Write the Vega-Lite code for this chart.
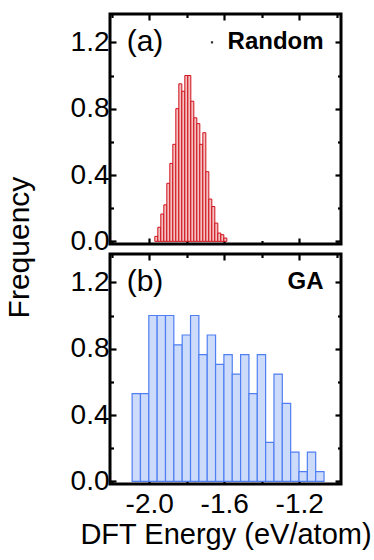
{
  "$schema": "https://vega.github.io/schema/vega-lite/v6.json",
  "padding": {"left": 2, "top": 11, "right": 5, "bottom": 0},
  "background": "white",
  "bounds": "flush",
  "spacing": 10,
  "config": {
    "font": "Liberation Sans",
    "view": {"stroke": "black", "strokeWidth": 3},
    "axis": {
      "grid": false, "domain": false, "tickColor": "black", "tickWidth": 2.2,
      "labelFont": "Liberation Sans", "labelFontSize": 28, "labelColor": "black",
      "titleFont": "Liberation Sans", "titleFontSize": 30, "titleFontWeight": "normal", "titleColor": "black"
    }
  },
  "datasets": {
    "random": [
      {"x0": -1.970, "x1": -1.954, "v": 0.03},
      {"x0": -1.954, "x1": -1.938, "v": 0.085},
      {"x0": -1.938, "x1": -1.922, "v": 0.165},
      {"x0": -1.922, "x1": -1.906, "v": 0.22},
      {"x0": -1.906, "x1": -1.890, "v": 0.35},
      {"x0": -1.890, "x1": -1.874, "v": 0.47},
      {"x0": -1.874, "x1": -1.858, "v": 0.585},
      {"x0": -1.858, "x1": -1.842, "v": 0.80},
      {"x0": -1.842, "x1": -1.826, "v": 0.95},
      {"x0": -1.826, "x1": -1.810, "v": 0.905},
      {"x0": -1.810, "x1": -1.794, "v": 1.0},
      {"x0": -1.794, "x1": -1.778, "v": 1.0},
      {"x0": -1.778, "x1": -1.762, "v": 0.845},
      {"x0": -1.762, "x1": -1.746, "v": 0.745},
      {"x0": -1.746, "x1": -1.730, "v": 0.71},
      {"x0": -1.730, "x1": -1.714, "v": 0.585},
      {"x0": -1.714, "x1": -1.698, "v": 0.655},
      {"x0": -1.698, "x1": -1.682, "v": 0.42},
      {"x0": -1.682, "x1": -1.666, "v": 0.255},
      {"x0": -1.666, "x1": -1.650, "v": 0.21},
      {"x0": -1.650, "x1": -1.634, "v": 0.11},
      {"x0": -1.634, "x1": -1.618, "v": 0.05},
      {"x0": -1.618, "x1": -1.602, "v": 0.04},
      {"x0": -1.602, "x1": -1.586, "v": 0.02}
    ],
    "ga": [
      {"x0": -2.0910, "x1": -2.0465, "v": 0.5294},
      {"x0": -2.0465, "x1": -2.0020, "v": 0.5294},
      {"x0": -2.0020, "x1": -1.9575, "v": 1.0},
      {"x0": -1.9575, "x1": -1.9130, "v": 1.0},
      {"x0": -1.9130, "x1": -1.8685, "v": 1.0},
      {"x0": -1.8685, "x1": -1.8240, "v": 0.8235},
      {"x0": -1.8240, "x1": -1.7795, "v": 0.8824},
      {"x0": -1.7795, "x1": -1.7350, "v": 1.0},
      {"x0": -1.7350, "x1": -1.6905, "v": 0.7647},
      {"x0": -1.6905, "x1": -1.6460, "v": 0.8824},
      {"x0": -1.6460, "x1": -1.6015, "v": 0.7059},
      {"x0": -1.6015, "x1": -1.5570, "v": 0.7647},
      {"x0": -1.5570, "x1": -1.5125, "v": 0.6471},
      {"x0": -1.5125, "x1": -1.4680, "v": 0.7647},
      {"x0": -1.4680, "x1": -1.4235, "v": 0.5294},
      {"x0": -1.4235, "x1": -1.3790, "v": 0.7647},
      {"x0": -1.3790, "x1": -1.3345, "v": 0.2353},
      {"x0": -1.3345, "x1": -1.2900, "v": 0.6471},
      {"x0": -1.2900, "x1": -1.2455, "v": 0.4706},
      {"x0": -1.2455, "x1": -1.2010, "v": 0.1765},
      {"x0": -1.2010, "x1": -1.1565, "v": 0.0588},
      {"x0": -1.1565, "x1": -1.1120, "v": 0.1765},
      {"x0": -1.1120, "x1": -1.0675, "v": 0.0588}
    ]
  },
  "vconcat": [
    {
      "width": 231, "height": 230,
      "resolve": {"axis": {"x": "independent", "y": "independent"}},
      "layer": [
        {
          "data": {"name": "random"},
          "mark": {"type": "bar", "fill": "#f4c0c0", "stroke": "#d0101c", "strokeWidth": 1},
          "encoding": {
            "x": {"field": "x0", "type": "quantitative",
              "scale": {"domain": [-2.209, -0.977], "nice": false, "zero": false},
              "axis": {"orient": "bottom", "values": [-2.2, -2.0, -1.8, -1.6, -1.4, -1.2, -1.0], "labels": false, "title": null,
                "tickSize": {"condition": {"test": "round(datum.value*10)%4==0", "value": -6}, "value": -3.5}}},
            "x2": {"field": "x1"},
            "y": {"field": "v", "type": "quantitative",
              "scale": {"domain": [-0.016, 1.371], "nice": false, "zero": false},
              "axis": {"orient": "left", "values": [0, 0.2, 0.4, 0.6, 0.8, 1.0, 1.2],
                "labelExpr": "round(datum.value*10)%4==0 ? format(datum.value,'.1f') : ''",
                "labelPadding": 7, "title": "Frequency", "titleY": 233, "titlePadding": 36,
                "tickSize": {"condition": {"test": "round(datum.value*10)%4==0", "value": -6}, "value": -3.5}}},
            "y2": {"datum": 0}
          }
        },
        {
          "data": {"values": [{}]},
          "mark": {"type": "text", "text": "(a)", "align": "left", "baseline": "middle", "fontSize": 30, "font": "Liberation Sans", "color": "black"},
          "encoding": {
            "x": {"datum": -2.12, "type": "quantitative",
              "axis": {"orient": "top", "values": [-2.2, -2.0, -1.8, -1.6, -1.4, -1.2, -1.0], "labels": false, "title": null,
                "tickSize": {"condition": {"test": "round(datum.value*10)%4==0", "value": -6}, "value": -3.5}}},
            "y": {"datum": 1.2, "type": "quantitative",
              "axis": {"orient": "right", "values": [0, 0.2, 0.4, 0.6, 0.8, 1.0, 1.2], "labels": false, "title": null,
                "tickSize": {"condition": {"test": "round(datum.value*10)%4==0", "value": -6}, "value": -3.5}}}
          }
        },
        {
          "data": {"values": [{}]},
          "mark": {"type": "text", "text": "Random", "align": "right", "baseline": "middle", "fontSize": 24, "fontWeight": "bold", "font": "Liberation Sans", "color": "black"},
          "encoding": {
            "x": {"datum": -1.07, "type": "quantitative", "axis": null},
            "y": {"datum": 1.2, "type": "quantitative", "axis": null}
          }
        },
        {
          "data": {"values": [{}]},
          "mark": {"type": "point", "shape": "square", "size": 5, "filled": true, "color": "#333333", "opacity": 1},
          "encoding": {
            "x": {"datum": -1.665, "type": "quantitative", "axis": null},
            "y": {"datum": 1.2, "type": "quantitative", "axis": null}
          }
        }
      ]
    },
    {
      "width": 231, "height": 230,
      "resolve": {"axis": {"x": "independent", "y": "independent"}},
      "layer": [
        {
          "data": {"name": "ga"},
          "mark": {"type": "bar", "fill": "#cddbfa", "stroke": "#4f7ff2", "strokeWidth": 1.2},
          "encoding": {
            "x": {"field": "x0", "type": "quantitative",
              "scale": {"domain": [-2.209, -0.977], "nice": false, "zero": false},
              "axis": {"orient": "bottom", "values": [-2.2, -2.0, -1.8, -1.6, -1.4, -1.2, -1.0],
                "labelExpr": "round(datum.value*10)%4==0 ? replace(format(datum.value,'.1f'),'\u2212','-') : ''",
                "labelPadding": 12, "title": "DFT Energy (eV/atom)", "titlePadding": 2, "titleFontSize": 29,
                "tickSize": {"condition": {"test": "round(datum.value*10)%4==0", "value": -6}, "value": -3.5}}},
            "x2": {"field": "x1"},
            "y": {"field": "v", "type": "quantitative",
              "scale": {"domain": [-0.016, 1.371], "nice": false, "zero": false},
              "axis": {"orient": "left", "values": [0, 0.2, 0.4, 0.6, 0.8, 1.0, 1.2],
                "labelExpr": "round(datum.value*10)%4==0 ? format(datum.value,'.1f') : ''",
                "labelPadding": 7, "title": null,
                "tickSize": {"condition": {"test": "round(datum.value*10)%4==0", "value": -6}, "value": -3.5}}},
            "y2": {"datum": 0}
          }
        },
        {
          "data": {"values": [{}]},
          "mark": {"type": "text", "text": "(b)", "align": "left", "baseline": "middle", "fontSize": 30, "font": "Liberation Sans", "color": "black"},
          "encoding": {
            "x": {"datum": -2.12, "type": "quantitative",
              "axis": {"orient": "top", "values": [-2.2, -2.0, -1.8, -1.6, -1.4, -1.2, -1.0], "labels": false, "title": null,
                "tickSize": {"condition": {"test": "round(datum.value*10)%4==0", "value": -6}, "value": -3.5}}},
            "y": {"datum": 1.2, "type": "quantitative",
              "axis": {"orient": "right", "values": [0, 0.2, 0.4, 0.6, 0.8, 1.0, 1.2], "labels": false, "title": null,
                "tickSize": {"condition": {"test": "round(datum.value*10)%4==0", "value": -6}, "value": -3.5}}}
          }
        },
        {
          "data": {"values": [{}]},
          "mark": {"type": "text", "text": "GA", "align": "right", "baseline": "middle", "fontSize": 24, "fontWeight": "bold", "font": "Liberation Sans", "color": "black"},
          "encoding": {
            "x": {"datum": -1.07, "type": "quantitative", "axis": null},
            "y": {"datum": 1.2, "type": "quantitative", "axis": null}
          }
        }
      ]
    }
  ]
}
